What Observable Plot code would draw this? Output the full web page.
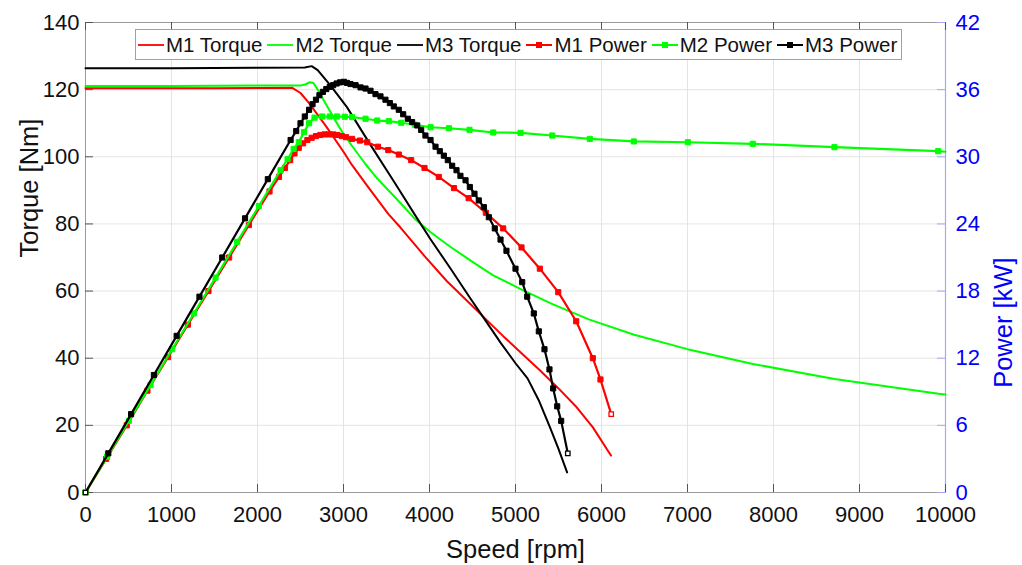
<!DOCTYPE html>
<html><head><meta charset="utf-8">
<script src="https://cdn.jsdelivr.net/npm/d3@7"></script>
<script src="https://cdn.jsdelivr.net/npm/@observablehq/plot@0.6"></script>
<style>
body{margin:0;background:#fff;font-family:"Liberation Sans",Arial,sans-serif;}
#wrap{position:relative;width:1022px;height:565px;overflow:hidden}
#legend{position:absolute;left:135px;top:29px;width:767px;height:31px;border:1px solid #a0a0a0;background:#fff;box-sizing:border-box;display:flex;align-items:center;font-size:20.5px;white-space:nowrap;color:#111}
.item{display:flex;align-items:center;}
.item svg{display:block;margin-left:5px;margin-right:2px}
.item:first-child svg{margin-left:2px}
</style></head>
<body><div id="wrap"><div id="chart"></div><div id="legend"></div></div>
<script>
// ---- data ----
const seriesNames = ["M1 Torque","M2 Torque","M3 Torque","M1 Power","M2 Power","M3 Power"];
const seriesColors = ["#ff0000","#00ff00","#000000","#ff0000","#00ff00","#000000"];

const xTicks = [0,1000,2000,3000,4000,5000,6000,7000,8000,9000,10000];
const torqueTicks = [0,20,40,60,80,100,120,140];
const powerTicks = [0,6,12,18,24,30,36,42];

// Torque curves [rpm] / [Nm]
const m1TorqueSpeed = [0,500,1000,1500,2000,2400,2500,2600,2700,2800,3000,3100,3300,3520,3660,3940,4200,4460,4660,4860,5070,5280,5500,5700,5900,6110];
const m1Torque      = [120.4,120.4,120.4,120.4,120.5,120.6,119,116,112.5,109,101.5,97.5,90.5,83,79,70.5,63,56.5,51.5,46.5,41.5,36.5,31,25.7,19.4,11];

const m2TorqueSpeed = [0,1000,2000,2500,2560,2610,2650,2700,2800,2900,3000,3100,3250,3390,3530,3670,3830,4010,4225,4465,4740,5060,5430,5860,6380,7000,7760,8710,9920,10000];
const m2Torque      = [121.1,121.1,121.2,121.2,121.6,122.2,122.0,120,115.5,111,106.8,103.2,98,93.6,89.8,86,81.5,77.6,73.5,69.3,64.7,60.6,56.1,51.5,47,42.7,38.3,33.8,29.4,29.2];

const m3TorqueSpeed = [0,1000,2000,2550,2630,2700,2850,3040,3310,3590,3860,4010,4250,4470,4630,4830,5000,5140,5270,5400,5500,5600];
const m3Torque      = [126.4,126.4,126.5,126.6,127,125.8,121.2,114.8,103.7,92.5,81.5,75.5,66.5,58,52,44.5,38.5,34,27.5,19.5,13,6];

// Power curves [rpm] / [kW]
const m1PowerSpeed = [0,240,480,720,960,1190,1430,1670,1900,2140,2250,2320,2380,2430,2480,2530,2580,2630,2680,2730,2780,2830,2880,2930,2980,3030,3100,3190,3276,3400,3520,3643,3787,3942,4108,4285,4455,4655,4857,5070,5283,5497,5706,5899,5988,6113];
const m1Power      = [0,3.0,6.0,9.1,12.1,15.0,18.0,21.0,23.9,26.9,28.2,29.0,29.7,30.3,30.8,31.2,31.5,31.7,31.85,31.95,32.0,32.0,32.0,31.95,31.85,31.75,31.6,31.45,31.3,30.9,30.6,30.2,29.7,29.0,28.2,27.2,26.3,25.0,23.6,21.9,20.0,17.9,15.3,12.0,10.1,7.0];

const m2PowerSpeed = [0,252,504,756,1008,1260,1512,1764,2016,2268,2350,2420,2480,2540,2600,2663,2752,2840,2926,3015,3101,3256,3392,3527,3671,3829,4012,4225,4465,4741,5058,5427,5864,6376,7004,7759,8709,9915,10000];
const m2Power      = [0,3.2,6.4,9.6,12.8,16.0,19.2,22.4,25.6,28.8,29.8,30.7,31.3,32.2,33.0,33.5,33.6,33.6,33.6,33.58,33.54,33.4,33.24,33.18,33.04,32.86,32.64,32.55,32.41,32.17,32.14,31.9,31.6,31.37,31.3,31.16,30.86,30.5,30.45];
const m2PowerMarked = m2PowerSpeed.map(s => s < 10000);

const m3PowerSpeed = [0,265,530,795,1060,1325,1590,1855,2120,2385,2450,2500,2550,2600,2640,2680,2720,2760,2800,2840,2880,2920,2960,3004,3040,3081,3140,3198,3256,3314,3372,3430,3488,3539,3585,3643,3694,3748,3798,3857,3903,3953,4012,4070,4120,4167,4213,4264,4314,4360,4419,4469,4523,4573,4632,4690,4759,4826,4895,5000,5078,5136,5213,5271,5337,5395,5438,5485,5531,5608];
const m3Power      = [0,3.5,7.0,10.5,14.0,17.5,21.0,24.5,28.0,31.5,32.3,33.0,33.6,34.2,34.7,35.1,35.5,35.8,36.05,36.25,36.4,36.55,36.65,36.7,36.6,36.5,36.4,36.2,36.1,35.9,35.6,35.4,35.1,34.8,34.5,34.2,33.8,33.4,33.1,32.8,32.4,31.9,31.5,30.9,30.5,30.1,29.7,29.2,28.8,28.3,27.9,27.3,26.7,26.1,25.5,24.6,23.6,22.6,21.6,20.0,18.8,17.5,16.0,14.4,12.8,11.0,9.3,7.7,6.4,3.5];

// ---- build tables ----
const kWPerNm = 42 / 140; // right axis range / left axis range
const torqueTable = (sp, v) => sp.map((s, i) => ({speed: s, value: v[i]}));
const powerTable = (sp, v, marked) => sp.map((s, i) => ({speed: s, value: v[i] / kWPerNm,
  marked: marked ? marked[i] : true, hollow: i === 0 || i === sp.length - 1}));

const t1 = torqueTable(m1TorqueSpeed, m1Torque);
const t2 = torqueTable(m2TorqueSpeed, m2Torque);
const t3 = torqueTable(m3TorqueSpeed, m3Torque);
const p1 = powerTable(m1PowerSpeed, m1Power);
const p2 = powerTable(m2PowerSpeed, m2Power, m2PowerMarked);
const p3 = powerTable(m3PowerSpeed, m3Power);

const W = 1022, H = 565, mL = 85, mR = 77, mT = 22, mB = 73;
const fw = W - mL - mR, fh = H - mT - mB, tick = 8;

function powerMarks(data, color, hollowEnds) {
  return [
    Plot.line(data, {x: "speed", y: "value", stroke: color, strokeWidth: 2.2}),
    Plot.dot(data.filter(d => d.marked && !(hollowEnds && d.hollow)), {x: "speed", y: "value", symbol: "square", r: 2.9, fill: color, stroke: color, strokeWidth: 1}),
    hollowEnds ? Plot.dot(data.filter(d => d.hollow), {x: "speed", y: "value", symbol: "square", r: 2.5, fill: "white", stroke: color, strokeWidth: 1.3}) : null
  ];
}

const chart = Plot.plot({
  width: W, height: H,
  marginLeft: mL, marginRight: mR, marginTop: mT, marginBottom: mB,
  style: {fontFamily: "'Liberation Sans', Arial, sans-serif", fontSize: "22px", background: "white", color: "#111"},
  x: {domain: [0, 10000]},
  y: {domain: [0, 140]},
  marks: [
    Plot.gridX(xTicks, {stroke: "#e4e4e4", strokeOpacity: 1}),
    Plot.gridY(torqueTicks, {stroke: "#e4e4e4", strokeOpacity: 1}),
    Plot.frame({stroke: "#9a9a9a"}),
    Plot.ruleX([10000], {stroke: "#a6a6ff", strokeWidth: 1.2}),
    // inward tick marks
    Plot.ruleX(xTicks, {insetTop: fh - tick, stroke: "#555"}),
    Plot.ruleX(xTicks, {insetBottom: fh - tick, stroke: "#555"}),
    Plot.ruleY(torqueTicks, {insetRight: fw - tick, stroke: "#555"}),
    Plot.ruleY(torqueTicks, {insetLeft: fw - tick, stroke: "#a6a6ff"}),
    // torque curves
    Plot.line(t1, {x: "speed", y: "value", stroke: seriesColors[0], strokeWidth: 2}),
    Plot.line(t2, {x: "speed", y: "value", stroke: seriesColors[1], strokeWidth: 2}),
    Plot.line(t3, {x: "speed", y: "value", stroke: seriesColors[2], strokeWidth: 2}),
    // power curves
    ...powerMarks(p1, seriesColors[3], true),
    ...powerMarks(p2, seriesColors[4], false),
    ...powerMarks(p3, seriesColors[5], true),
    // axes
    Plot.axisX(xTicks, {anchor: "bottom", tickSize: 0, tickPadding: 14, tickFormat: d => String(d), label: null, fontSize: 22}),
    Plot.axisY(torqueTicks, {anchor: "left", tickSize: 0, tickPadding: 6, tickFormat: d => String(d), label: null, fontSize: 22}),
    Plot.axisY(torqueTicks, {anchor: "right", tickSize: 0, tickPadding: 10, tickFormat: d => String(Math.round(d * kWPerNm)), color: "#0000ff", label: null, fontSize: 22}),
    // axis titles
    Plot.text(["Speed [rpm]"], {frameAnchor: "bottom", dy: 57, fontSize: 25.5, fill: "#111", lineAnchor: "middle"}),
    Plot.text(["Torque [Nm]"], {frameAnchor: "left", dx: -56, rotate: -90, fontSize: 25.5, fill: "#111", lineAnchor: "middle"}),
    Plot.text(["Power [kW]"], {frameAnchor: "right", dx: 58, rotate: -90, fontSize: 25.5, fill: "#0000ff", lineAnchor: "middle"})
  ].filter(Boolean)
});
document.getElementById("chart").appendChild(chart);

// ---- legend ----
const legend = document.getElementById("legend");
seriesNames.forEach((name, i) => {
  const item = document.createElement("div");
  item.className = "item";
  const isPower = i >= 3;
  item.innerHTML = `<svg width="26" height="10"><line x1="0" y1="5" x2="26" y2="5" stroke="${seriesColors[i]}" stroke-width="${isPower ? 2 : 1.8}"/>${isPower ? `<rect x="10" y="2" width="6" height="6" fill="${seriesColors[i]}"/>` : ""}</svg><span>${name}</span>`;
  legend.appendChild(item);
});
</script>
</body></html>
